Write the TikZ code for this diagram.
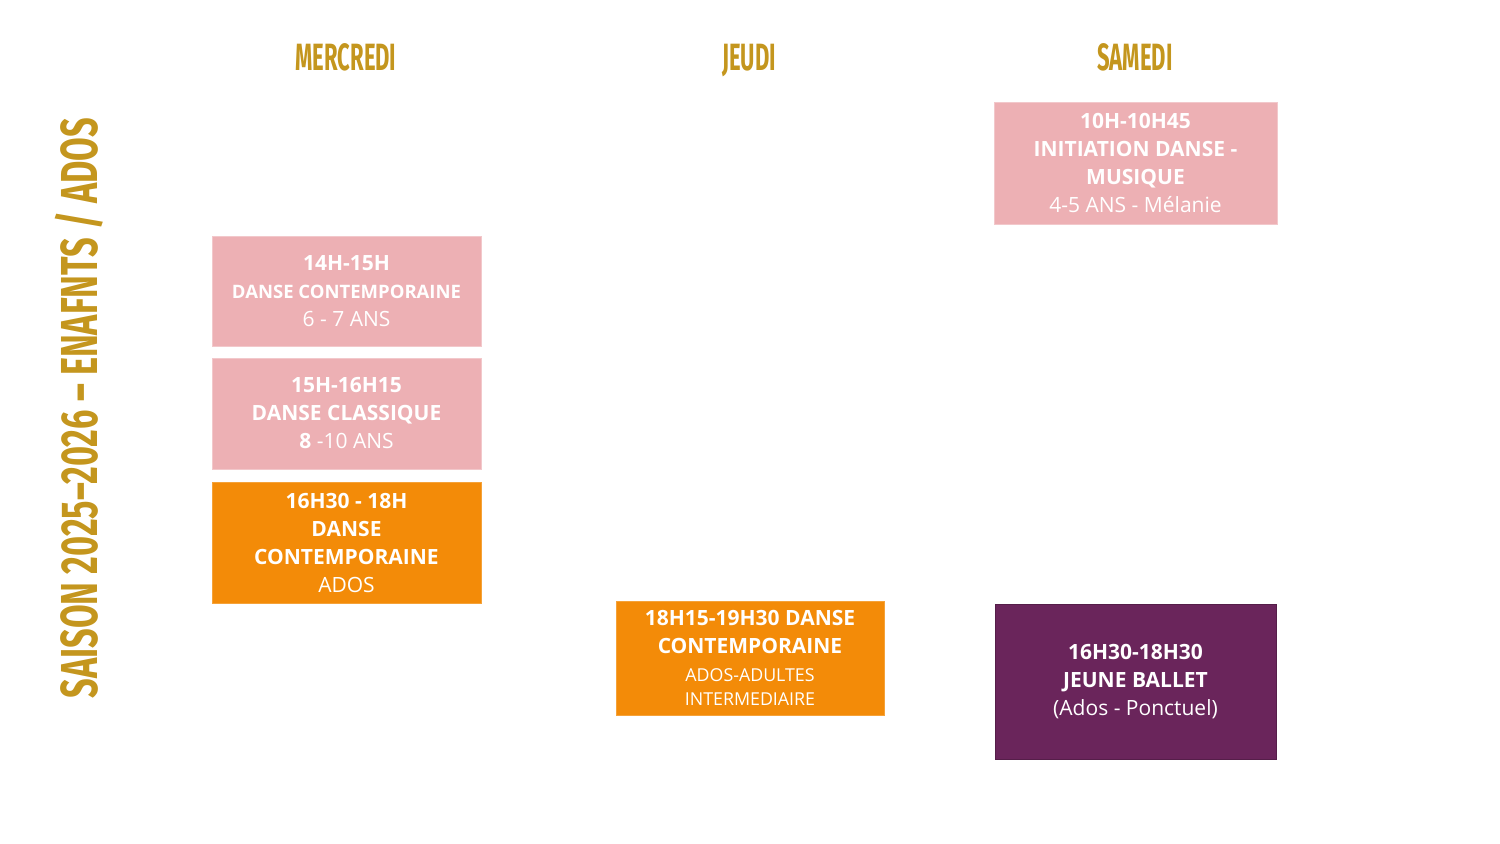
\documentclass[tikz,border=0pt]{standalone}
\usepackage{fontspec}
\setmainfont{Open Sans}
\newfontfamily\headfont[FakeStretch=0.58]{Fira Sans}
\newfontfamily\sidefont[FakeStretch=0.66]{Fira Sans}
\usetikzlibrary{positioning}
\definecolor{gold}{RGB}{196,150,30}
\definecolor{rose}{RGB}{237,176,180}
\definecolor{tangerine}{RGB}{243,139,8}
\definecolor{plum}{RGB}{106,37,91}
\tikzstyle{slot} = [rectangle, inner sep=0pt, align=center, text=white,
    font=\fontsize{10.5}{14}\selectfont]
\tikzstyle{pinkbox} = [slot, fill=rose, draw=rose!70!white]
\tikzstyle{orangebox} = [slot, fill=tangerine, draw=tangerine!80!white]
\tikzstyle{purplebox} = [slot, fill=plum, draw=plum!80!black]
\tikzstyle{daytitle} = [text=gold, anchor=base, font=\headfont\bfseries\fontsize{19}{24}\selectfont]
\tikzstyle{seasontitle} = [text=gold, rotate=90, font=\sidefont\bfseries\fontsize{26}{30}\selectfont]
\begin{document}
\begin{tikzpicture}[x=0.5pt, y=-0.5pt]
\useasboundingbox (0,0) rectangle (1500,844);
% jours
\node[daytitle] (mer) at (346,71) {MERCREDI};
\node[daytitle] (jeu) at (749,71) {JEUDI};
\node[daytitle] (sam) at (1135,71) {SAMEDI};
\node[seasontitle] (saison) at (79,408) {SAISON 2025–2026 – ENAFNTS / ADOS};
% mercredi
\node[pinkbox, minimum width=134.5pt, minimum height=55pt] (mer1) at (346.5,291)
    {\textbf{14H-15H}\\{\fontsize{9.25}{14}\selectfont\bfseries DANSE CONTEMPORAINE}\\6 - 7 ANS};
\node[pinkbox, minimum width=134.5pt, minimum height=55.5pt] (mer2) at (346.5,413.5)
    {\textbf{15H-16H15}\\\textbf{DANSE CLASSIQUE}\\\textbf{8} -10 ANS};
\node[orangebox, minimum width=134.5pt, minimum height=60.5pt] (mer3) at (346.5,542.5)
    {\textbf{16H30 - 18H}\\\textbf{DANSE}\\\textbf{CONTEMPORAINE}\\ADOS};
% jeudi
\node[orangebox, minimum width=134pt, minimum height=57pt] (jeu1) at (750,658)
    {\textbf{18H15-19H30 DANSE}\\\textbf{CONTEMPORAINE}\\{\fontsize{8.9}{12}\selectfont ADOS-ADULTES}\\[-2pt]{\fontsize{8.9}{12}\selectfont INTERMEDIAIRE}};
% samedi
\node[pinkbox, minimum width=141.5pt, minimum height=61pt] (sam1) at (1135.5,163)
    {\textbf{10H-10H45}\\\textbf{INITIATION DANSE -}\\\textbf{MUSIQUE}\\4-5 ANS - Mélanie};
\node[purplebox, minimum width=140.5pt, minimum height=77.5pt] (sam2) at (1135.5,681.5)
    {\textbf{16H30-18H30}\\\textbf{JEUNE BALLET}\\(Ados - Ponctuel)};
\end{tikzpicture}
\end{document}
